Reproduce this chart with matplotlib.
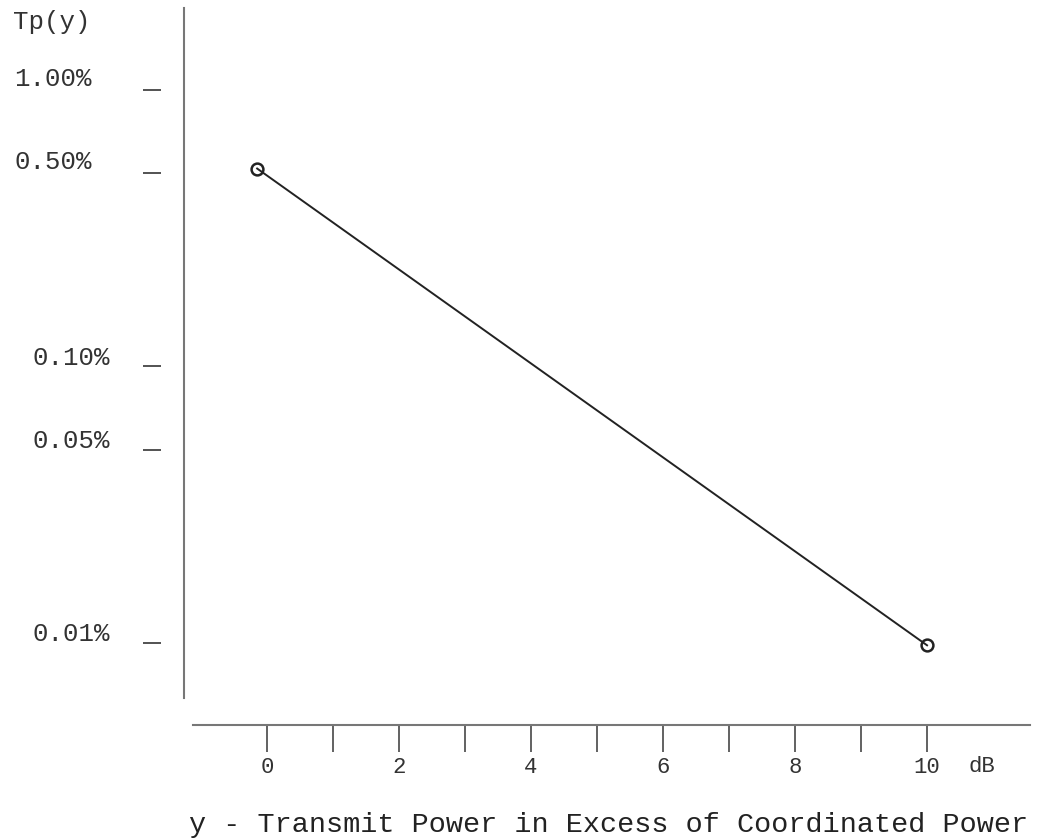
import numpy as np
import matplotlib
matplotlib.use("Agg")
import matplotlib.pyplot as plt
import matplotlib.transforms as mtransforms

# values
excess_db = [-0.15, 10.0]
tp_percent = [0.52, 0.0098]

x_ticks = list(range(0, 11))
x_tick_labels = ["0", "", "2", "", "4", "", "6", "", "8", "", "10"]
y_ticks = [1.0, 0.5, 0.1, 0.05, 0.01]
y_tick_labels = ["1.00%", "0.50%", "0.10%", "0.05%", "0.01%"]

plt.rcParams['font.family'] = ['Liberation Mono', 'DejaVu Sans Mono']

fig = plt.figure(figsize=(10.42, 8.39), dpi=100)
ax = fig.add_axes([0.1766, 0.1681, 0.8119, 0.8224])

ax.plot(excess_db, tp_percent, color='#222222', lw=1.4,
        marker='o', ms=8.5, mfc='none', mec='#222222', mew=1.8)

ax.set_yscale('log')
ax.set_xlim(-1.258, 11.56)
ax.set_ylim(0.00632, 1.981)

# y ticks: short dashes detached from the vertical line
ax.yaxis.set_ticks_position('left')
ax.spines['left'].set_position(('outward', 16.6))
ax.spines['left'].set_visible(False)
ax.spines['right'].set_position(('axes', 0.0))
ax.spines['right'].set_color('#777777')
ax.spines['right'].set_linewidth(1.5)
ax.spines['top'].set_visible(False)
ax.set_yticks(y_ticks)
ax.set_yticklabels(y_tick_labels, fontsize=18.5, color='#333333')
ax.yaxis.set_minor_locator(matplotlib.ticker.NullLocator())
ax.tick_params(axis='y', direction='out', length=13, width=1.3,
               color='#444444', pad=24)
for i, lab in enumerate(ax.get_yticklabels()):
    dx = -13 / 72 if i < 2 else 0
    dy = 10 / 72 if i < 2 else 8 / 72
    off = mtransforms.ScaledTranslation(dx, dy, fig.dpi_scale_trans)
    lab.set_transform(lab.get_transform() + off)

# x axis: separate line below the plot
ax.spines['bottom'].set_position(('outward', 19.4))
ax.spines['bottom'].set_bounds(-1.12, 11.56)
ax.spines['bottom'].set_color('#777777')
ax.spines['bottom'].set_linewidth(1.5)
ax.set_xticks(x_ticks)
ax.set_xticklabels(x_tick_labels, fontsize=16, color='#333333')
ax.tick_params(axis='x', direction='out', length=19.4, width=1.3,
               color='#555555', pad=4)

fig.text(982 / 1042, 1 - 767 / 839, "dB", fontsize=16, color='#333333',
         ha='center', va='center')
fig.text(13 / 1042, 1 - 22 / 839, "Tp(y)", fontsize=18.5, color='#333333',
         ha='left', va='center')
fig.text(609 / 1042, 1 - 825 / 839,
         "y - Transmit Power in Excess of Coordinated Power",
         fontsize=20.5, color='#222222', ha='center', va='center')

fig.savefig("out.png", dpi=100)
